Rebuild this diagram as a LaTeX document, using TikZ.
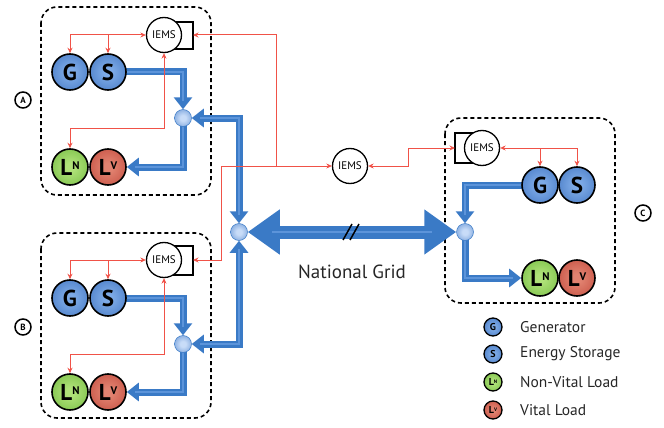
\documentclass[tikz,border=0pt]{standalone}
\usepackage{fontspec}
\setmainfont{PT Sans}
\usetikzlibrary{arrows.meta}
\definecolor{pipeblue}{RGB}{58,122,198}
\definecolor{pipelight}{RGB}{92,148,218}
\definecolor{sigred}{RGB}{240,82,72}
\definecolor{bluein}{RGB}{125,170,230}
\definecolor{blueout}{RGB}{40,95,178}
\definecolor{greenin}{RGB}{175,225,120}
\definecolor{greenout}{RGB}{88,170,40}
\definecolor{redin}{RGB}{225,130,112}
\definecolor{redout}{RGB}{180,50,38}
\definecolor{jin}{RGB}{200,220,248}
\definecolor{jout}{RGB}{60,118,196}
\pgfdeclareradialshading{ballblue}{\pgfpoint{0bp}{0bp}}{color(0bp)=(bluein); color(6bp)=(bluein); color(50bp)=(blueout)}
\pgfdeclareradialshading{ballgreen}{\pgfpoint{0bp}{0bp}}{color(0bp)=(greenin); color(6bp)=(greenin); color(50bp)=(greenout)}
\pgfdeclareradialshading{ballred}{\pgfpoint{0bp}{0bp}}{color(0bp)=(redin); color(6bp)=(redin); color(50bp)=(redout)}
\pgfdeclareradialshading{jball}{\pgfpoint{0bp}{0bp}}{color(0bp)=(jin); color(8bp)=(jin); color(50bp)=(jout)}
\pgfdeclarelayer{back}
\pgfsetlayers{back,main}
\tikzset{
  ball/.style={circle, minimum size=36pt, inner sep=0pt, draw=black, line width=1.6pt, font=\fontsize{23}{23}\selectfont\bfseries},
  bball/.style={ball, shading=ballblue},
  gball/.style={ball, shading=ballgreen},
  rball/.style={ball, shading=ballred},
  lball/.style={circle, minimum size=18pt, inner sep=0pt, draw=black, line width=1.3pt, font=\fontsize{10}{10}\selectfont\bfseries},
  junc/.style={circle, minimum size=17pt, inner sep=0pt, shading=jball, draw=pipeblue, line width=0.5pt},
  iems/.style={circle, draw=black, line width=1.3pt, fill=white, minimum size=35pt, inner sep=0pt, font=\fontsize{11}{11}\selectfont},
  tag/.style={circle, draw=black, line width=1.5pt, fill=white, minimum size=16pt, inner sep=0pt, font=\fontsize{9}{9}\selectfont\bfseries},
  dashbox/.style={draw=black, line width=1.6pt, dash pattern=on 4pt off 3pt, rounded corners=16pt},
  bracket/.style={draw=black, line width=1.3pt},
  sig/.style={draw=sigred, line width=1pt, >={Stealth[length=5.5pt,width=5pt]}},
  pipe/.style={draw=pipelight, line width=1.8pt, shorten >=8pt,
    preaction={draw=pipeblue, line width=7pt, shorten >=0pt, -{Triangle[length=12pt,width=18pt]}}},
  pipetwo/.style={draw=pipelight, line width=1.8pt, shorten >=8pt, shorten <=8pt,
    preaction={draw=pipeblue, line width=7pt, shorten >=0pt, shorten <=0pt, {Triangle[length=12pt,width=18pt]}-{Triangle[length=12pt,width=18pt]}}},
  gridpipe/.style={draw=pipelight, line width=2.5pt, shorten >=24pt, shorten <=24pt,
    preaction={draw=pipeblue, line width=13pt, shorten >=0pt, shorten <=0pt, {Triangle[length=32pt,width=43pt]}-{Triangle[length=32pt,width=43pt]}}},
  legtext/.style={anchor=west, inner sep=0pt, text=black!85, font=\fontsize{15.5}{17}\selectfont},
}
\newcommand{\LN}{L\raisebox{6pt}{\fontsize{11}{11}\selectfont N}}
\newcommand{\LV}{L\raisebox{6pt}{\fontsize{11}{11}\selectfont V}}
\newcommand{\lLN}{L\raisebox{2.5pt}{\fontsize{5}{5}\selectfont N}}
\newcommand{\lLV}{L\raisebox{2.5pt}{\fontsize{5}{5}\selectfont V}}
\begin{document}
\begin{tikzpicture}[x=1pt,y=-1pt]
\useasboundingbox (0,0) rectangle (664,428);

% ---------- nodes ----------
% Microgrid A
\node[bball] (GA) at (70,72) {G};
\node[bball] (SA) at (108,72) {S};
\node[gball] (LNA) at (70,167) {\LN};
\node[rball] (LVA) at (108,167) {\LV};
\node[junc] (JA) at (183,118) {};
% Microgrid B
\node[bball] (GB) at (70,298) {G};
\node[bball] (SB) at (108,298) {S};
\node[gball] (LNB) at (70,392) {\LN};
\node[rball] (LVB) at (108,392) {\LV};
\node[junc] (JB) at (183,344) {};
% Microgrid C
\node[bball] (GC) at (540,185) {G};
\node[bball] (SC) at (577,185) {S};
\node[gball] (LNC) at (540,278) {\LN};
\node[rball] (LVC) at (577,278) {\LV};
\node[junc] (JC) at (465,232) {};
% central
\node[junc] (JM) at (239,232) {};

% bracket coordinates
\coordinate (brA) at (193,35);
\coordinate (brB) at (193,260);
\coordinate (brC) at (455,148);
\coordinate (rjA) at (276,166);
\coordinate (rjB) at (221,166);
\coordinate (rjC) at (408,166);

% ---------- background: boxes and pipes ----------
\begin{pgfonlayer}{back}
\draw[dashbox] (41,7) rectangle (211,195);
\draw[dashbox] (41,233) rectangle (211,418);
\draw[dashbox] (445,118) rectangle (615,303);

% brackets
\draw[bracket] (164,22) -| (193,49) -- (164,49);
\draw[bracket] (164,246) -| (193,275) -- (164,275);
\draw[bracket] (482,133) -| (455,163) -- (482,163);

% pipes A
\draw[pipe] (SA.center) -| (JA.north);
\draw[pipe] (JA.center) |- (LVA.east);
\draw[pipetwo] (JA.east) -| (JM.north);
% pipes B
\draw[pipe] (SB.center) -| (JB.north);
\draw[pipe] (JB.center) |- (LVB.east);
\draw[pipetwo] (JB.east) -| (JM.south);
% pipes C
\draw[pipe] (GC.center) -| (JC.north);
\draw[pipe] (JC.center) |- (LNC.west);
% national grid
\draw[gridpipe] (JM.east) -- (JC.west);
\end{pgfonlayer}

% grid break mark
\draw[black, line width=1.5pt] (343,240) -- (352,224);
\draw[black, line width=1.5pt] (350,240) -- (359,224);

% IEMS units
\node[iems] (IEMSA) at (164,35) {IEMS};
\node[iems] (IEMSB) at (164,260) {IEMS};
\node[iems] (IEMSC) at (482,148) {IEMS};
\node[iems] (IEMSM) at (350,166) {IEMS};

% ---------- red signal lines ----------
\draw[sig,<->] (GA.north) |- (IEMSA.west);
\draw[sig,->] (SA.north |- IEMSA.west) -- (SA.north);
\draw[sig,<->] (IEMSA.south) -- (164,128) -| (LNA.north);

\draw[sig,<->] (GB.north) |- (IEMSB.west);
\draw[sig,->] (SB.north |- IEMSB.west) -- (SB.north);
\draw[sig,<->] (IEMSB.south) -- (164,354) -| (LNB.north);

\draw[sig,<->] (SC.north) |- (IEMSC.east);
\draw[sig,->] (GC.north |- IEMSC.east) -- (GC.north);

\draw[sig,->] (rjB) -- (IEMSM.west);
\draw[sig,->] (rjA) |- (brA);
\draw[sig,->] (rjB) |- (brB);
\draw[sig,<->] (IEMSM.east) -- (rjC) |- (brC);

% ---------- labels ----------
\node[tag] (tA) at (23,100) {A};
\node[tag] (tB) at (23,327) {B};
\node[tag] (tC) at (643,213) {C};

\node[font=\fontsize{19}{21}\selectfont, text=black!85, inner sep=0pt] (ng) at (352,272) {National Grid};

% ---------- legend ----------
\node[lball, shading=ballblue] (k1) at (493,327) {G};
\node[lball, shading=ballblue] (k2) at (493,354) {S};
\node[lball, shading=ballgreen] (k3) at (493,382) {\lLN};
\node[lball, shading=ballred] (k4) at (493,410) {\lLV};
\node[legtext] (t1) at (520,327) {Generator};
\node[legtext] (t2) at (520,354) {Energy Storage};
\node[legtext] (t3) at (520,382) {Non-Vital Load};
\node[legtext] (t4) at (520,410) {Vital Load};
\end{tikzpicture}
\end{document}
